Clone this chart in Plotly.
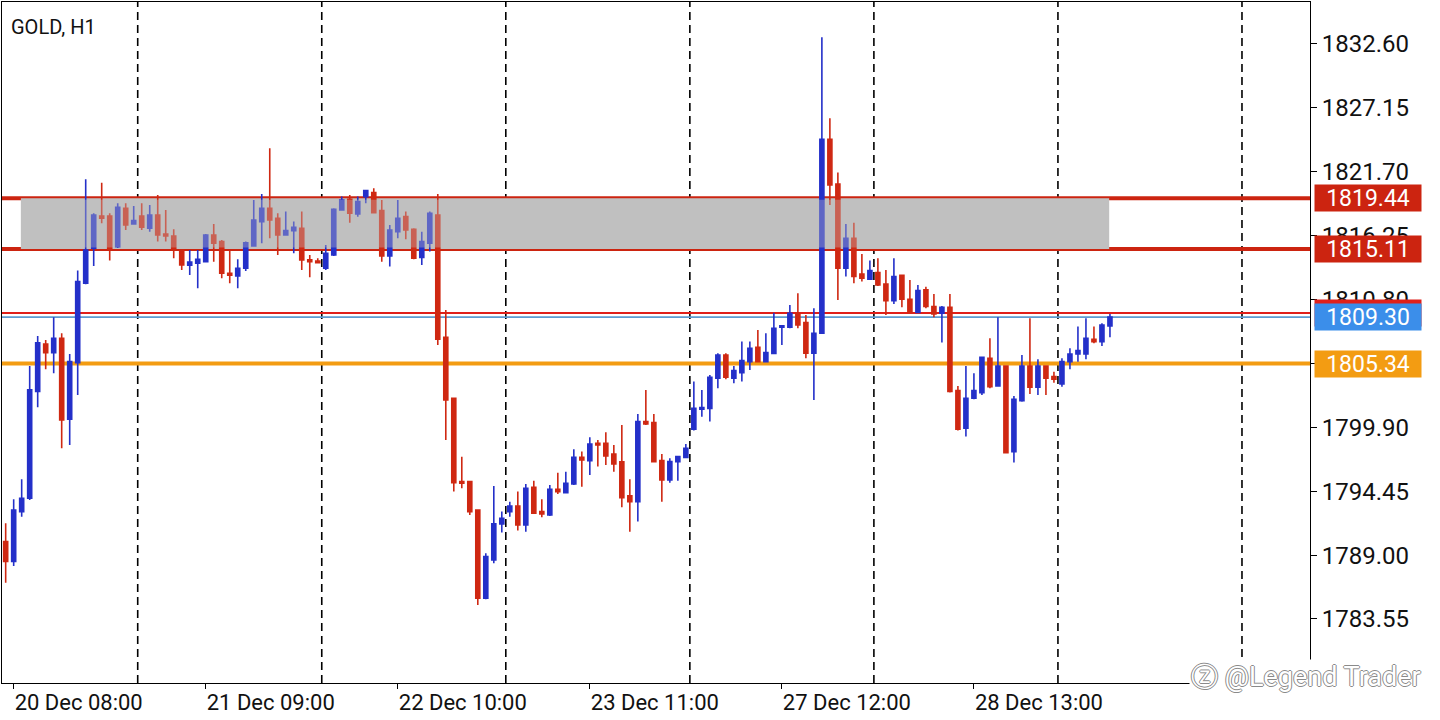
import plotly.graph_objects as go

# ---------------- data (GOLD, H1) ----------------
open_ = [1790.15, 1788.45, 1792.71, 1793.85, 1802.95, 1807.01, 1806.27, 1807.49, 1800.59, 1805.42,
         1812.19, 1815.17, 1817.93, 1817.93, 1815.31, 1818.58, 1817.25, 1817.93, 1816.88, 1818.01,
         1816.39, 1816.22, 1815.03, 1813.72, 1813.89, 1814.03, 1816.31, 1815.74, 1813.04, 1812.81,
         1813.47, 1815.37, 1817.45, 1818.58, 1817.73, 1816.31, 1816.68, 1816.88, 1814.18, 1814.09,
         1813.47, 1814.60, 1818.44, 1819.35, 1818.10, 1819.58, 1819.92, 1818.38, 1814.52, 1816.59,
         1817.87, 1816.79, 1814.40, 1815.60, 1818.01, 1807.58, 1802.38, 1795.27, 1795.27, 1792.85,
         1785.32, 1788.59, 1791.66, 1792.71, 1793.19, 1791.57, 1794.79, 1792.71, 1792.42, 1794.61,
         1794.33, 1795.07, 1797.34, 1797.06, 1798.54, 1798.54, 1797.63, 1796.95, 1794.05, 1793.56,
         1800.39, 1800.30, 1797.06, 1795.41, 1796.97, 1797.34, 1799.73, 1801.44, 1801.52, 1804.08,
         1806.07, 1804.08, 1804.56, 1805.50, 1806.73, 1805.50, 1806.21, 1808.43, 1808.43, 1809.63,
         1808.83, 1806.22, 1807.92, 1824.47, 1820.66, 1813.47, 1816.03, 1812.98, 1812.53, 1813.10,
         1812.13, 1810.71, 1812.87, 1810.82, 1809.69, 1811.62, 1810.20, 1809.63, 1810.14, 1803.03,
         1799.82, 1802.38, 1802.86, 1805.79, 1803.43, 1805.13, 1797.83, 1802.18, 1805.13, 1803.32,
         1805.13, 1804.22, 1803.60, 1805.50, 1806.16, 1806.16, 1807.41, 1807.21, 1808.55]
high = [1791.72, 1793.76, 1795.47, 1805.13, 1807.69, 1807.35, 1809.28, 1807.92, 1806.16, 1813.27,
        1821.05, 1818.16, 1820.77, 1818.16, 1819.01, 1819.01, 1818.78, 1819.01, 1818.87, 1819.72,
        1818.44, 1816.79, 1815.09, 1815.03, 1815.03, 1816.39, 1817.25, 1815.88, 1815.03, 1814.23,
        1815.74, 1819.29, 1819.80, 1823.70, 1818.16, 1818.30, 1817.45, 1818.30, 1814.60, 1814.32,
        1815.45, 1818.58, 1819.58, 1819.72, 1819.58, 1820.15, 1820.29, 1819.29, 1817.16, 1819.29,
        1818.30, 1816.88, 1816.59, 1818.30, 1819.80, 1809.91, 1802.43, 1797.40, 1795.35, 1792.91,
        1789.16, 1794.90, 1792.71, 1793.56, 1794.42, 1795.07, 1795.35, 1793.76, 1794.98, 1796.03,
        1796.12, 1798.03, 1797.83, 1799.05, 1798.82, 1799.48, 1798.40, 1800.10, 1795.47, 1801.04,
        1803.08, 1801.04, 1797.63, 1797.26, 1797.46, 1798.48, 1803.80, 1803.09, 1804.37, 1806.21,
        1806.21, 1805.13, 1807.21, 1807.21, 1808.20, 1807.92, 1809.68, 1808.63, 1810.34, 1811.33,
        1809.49, 1810.06, 1833.17, 1826.26, 1821.63, 1817.25, 1817.36, 1814.69, 1814.12, 1814.32,
        1813.32, 1814.32, 1812.93, 1812.47, 1812.04, 1811.90, 1811.28, 1810.25, 1811.28, 1803.43,
        1805.13, 1804.51, 1805.93, 1807.49, 1809.28, 1805.19, 1802.58, 1806.07, 1809.20, 1805.70,
        1805.19, 1804.65, 1805.79, 1806.64, 1808.49, 1809.20, 1808.49, 1808.77, 1809.57]
low = [1786.65, 1788.08, 1792.28, 1793.70, 1801.61, 1804.85, 1804.51, 1798.11, 1798.40, 1802.66,
       1812.10, 1813.66, 1817.30, 1814.12, 1815.20, 1816.74, 1817.20, 1816.74, 1816.59, 1815.74,
       1815.74, 1814.32, 1813.32, 1812.90, 1811.76, 1813.95, 1814.03, 1812.61, 1812.19, 1811.76,
       1813.24, 1815.31, 1815.60, 1816.02, 1814.60, 1816.25, 1814.74, 1813.32, 1812.70, 1813.89,
       1813.32, 1814.52, 1818.38, 1817.36, 1817.87, 1819.01, 1818.16, 1814.03, 1813.61, 1816.02,
       1815.94, 1814.23, 1813.75, 1814.89, 1806.93, 1798.82, 1794.42, 1794.70, 1792.43, 1784.75,
       1785.23, 1788.30, 1790.92, 1792.28, 1791.09, 1791.00, 1792.51, 1792.23, 1792.34, 1794.22,
       1794.27, 1794.98, 1794.84, 1795.84, 1796.55, 1796.69, 1796.12, 1793.08, 1791.00, 1791.86,
       1800.10, 1796.89, 1793.56, 1795.18, 1795.35, 1797.26, 1799.62, 1800.81, 1800.39, 1803.23,
       1804.00, 1803.66, 1803.80, 1804.79, 1805.42, 1805.45, 1806.16, 1806.93, 1808.35, 1808.35,
       1805.79, 1802.24, 1807.87, 1818.87, 1810.76, 1812.76, 1812.19, 1812.33, 1812.47, 1811.96,
       1809.49, 1810.42, 1810.14, 1809.63, 1809.63, 1810.06, 1809.29, 1807.13, 1802.86, 1799.62,
       1799.11, 1802.29, 1802.66, 1803.23, 1803.37, 1797.69, 1796.89, 1802.09, 1802.75, 1802.66,
       1802.66, 1803.71, 1803.37, 1804.85, 1805.50, 1805.70, 1807.07, 1806.84, 1807.58]
close = [1788.45, 1792.85, 1793.85, 1803.09, 1807.12, 1806.27, 1807.49, 1800.53, 1805.50, 1812.33,
         1815.03, 1818.01, 1817.73, 1815.09, 1818.67, 1817.16, 1817.53, 1816.96, 1818.01, 1816.31,
         1816.22, 1815.03, 1813.75, 1813.99, 1814.23, 1816.31, 1815.60, 1813.04, 1812.87, 1813.47,
         1815.65, 1817.59, 1818.58, 1817.59, 1816.31, 1816.68, 1816.96, 1814.18, 1814.03, 1813.95,
         1814.74, 1818.50, 1819.29, 1818.16, 1819.15, 1820.09, 1818.21, 1814.52, 1816.73, 1817.73,
         1816.73, 1814.32, 1815.74, 1818.16, 1807.41, 1802.24, 1795.18, 1795.13, 1792.71, 1785.32,
         1788.87, 1791.66, 1792.14, 1793.19, 1791.57, 1794.70, 1792.57, 1792.51, 1794.61, 1794.41,
         1795.12, 1797.34, 1797.12, 1798.48, 1798.40, 1797.46, 1796.77, 1793.90, 1793.56, 1800.39,
         1800.19, 1796.97, 1795.41, 1796.97, 1797.40, 1798.11, 1801.52, 1801.58, 1804.17, 1806.07,
         1804.17, 1804.74, 1805.59, 1806.64, 1805.50, 1806.27, 1808.35, 1808.57, 1809.63, 1808.63,
         1806.22, 1807.92, 1824.47, 1820.57, 1813.47, 1816.03, 1812.76, 1812.61, 1813.27, 1812.04,
         1810.71, 1812.76, 1810.82, 1809.69, 1811.56, 1810.20, 1809.57, 1810.14, 1802.95, 1799.73,
         1802.38, 1803.03, 1805.87, 1803.37, 1805.13, 1797.74, 1802.29, 1805.13, 1803.32, 1805.13,
         1804.08, 1804.00, 1805.50, 1806.16, 1806.44, 1807.49, 1807.21, 1808.63, 1809.30]
bars = list(range(len(close)))

x_tick_bars = [1, 25, 49, 73, 97, 121]
x_tick_labels = ["20 Dec 08:00", "21 Dec 09:00", "22 Dec 10:00",
                 "23 Dec 11:00", "27 Dec 12:00", "28 Dec 13:00"]
last_bar_of_day = [16, 39, 62, 85, 108, 131, 154]
y_tick_vals = [1783.55, 1789.00, 1794.45, 1799.90, 1805.35,
               1810.80, 1816.25, 1821.70, 1827.15, 1832.60]

zone_top = 1819.44
zone_bottom = 1815.11
zone_first_bar = 2
zone_last_bar = 138
support_level = 1805.34
bid_price = 1809.30
ask_price = 1809.65

# ---------------- style ----------------
BLUE = "#2430c9"
RED = "#cf2812"
LINE_RED = "#cc2410"
ORANGE = "#f39c12"
BID_BLUE = "#5e9bd0"
BOX_BLUE = "#3b8eea"
ZONE_GRAY = "#c0c0c0"
FONT = "Roboto, Noto Sans, sans-serif"

fig = go.Figure()
fig.add_trace(go.Candlestick(
    x=bars, open=open_, high=high, low=low, close=close,
    increasing=dict(line=dict(color=BLUE, width=1.6), fillcolor=BLUE),
    decreasing=dict(line=dict(color=RED, width=1.6), fillcolor=RED),
    whiskerwidth=0, hoverinfo="skip", showlegend=False,
))

shapes = []
# supply zone
shapes.append(dict(type="rect", xref="x", yref="y",
                   x0=zone_first_bar - 0.1, x1=zone_last_bar - 0.1,
                   y0=zone_bottom, y1=zone_top,
                   fillcolor=ZONE_GRAY, line=dict(width=0), layer="below"))
# day separators
for b in last_bar_of_day:
    shapes.append(dict(type="line", xref="x", yref="paper", x0=b + 0.5, x1=b + 0.5,
                       y0=0, y1=1, line=dict(color="black", width=1.6, dash="8px,5px"),
                       layer="below"))
# horizontal levels
for lvl, col, w in [(zone_top, LINE_RED, 4), (zone_bottom, LINE_RED, 4),
                    (ask_price, "#e0201a", 2), (bid_price, BID_BLUE, 1.6),
                    (support_level, ORANGE, 4)]:
    shapes.append(dict(type="line", xref="paper", yref="y", x0=0, x1=1, y0=lvl, y1=lvl,
                       line=dict(color=col, width=w), layer="below"))
# muted overlay on candles inside the zone
shapes.append(dict(type="rect", xref="x", yref="y",
                   x0=zone_first_bar - 0.1, x1=zone_last_bar - 0.1,
                   y0=zone_bottom + 0.12, y1=zone_top - 0.12,
                   fillcolor="rgba(192,192,192,0.38)", line=dict(width=0), layer="above"))

annotations = [
    dict(text="GOLD, H1", xref="paper", yref="paper", x=0.005, y=0.963,
         xanchor="left", yanchor="middle", showarrow=False,
         font=dict(family=FONT, size=20, color="#111111")),
]


def price_box(price, color, label):
    return dict(text=label, xref="paper", yref="y", x=1.0031, y=price,
                xanchor="left", yanchor="middle", showarrow=False,
                bgcolor=color, width=104, height=24, borderpad=1, align="center",
                font=dict(family=FONT, size=23, color="white"))


annotations.append(price_box(zone_top, LINE_RED, f"{zone_top:.2f}"))
annotations.append(price_box(zone_bottom, LINE_RED, f"{zone_bottom:.2f}"))
annotations.append(price_box(ask_price, "#e0201a", f"{ask_price:.2f}"))
annotations.append(price_box(bid_price, BOX_BLUE, f"{bid_price:.2f}"))
annotations.append(price_box(support_level, ORANGE, f"{support_level:.2f}"))

annotations.append(dict(
    text="ⓩ @Legend Trader", xref="paper", yref="paper", x=0.9075, y=0.009,
    xanchor="left", yanchor="middle", showarrow=False, bgcolor="white",
    font=dict(family=FONT, size=27, color="white",
              shadow="1px 0 #8a8a8a, -1px 0 #8a8a8a, 0 1px #8a8a8a, 0 -1px #8a8a8a"),
))

fig.update_layout(
    width=1440, height=720,
    margin=dict(l=2, r=130, t=2, b=37),
    paper_bgcolor="white", plot_bgcolor="white",
    boxgap=0.28,
    shapes=shapes, annotations=annotations,
    xaxis=dict(range=[-0.46, 163.0], tickmode="array", tickvals=x_tick_bars,
               ticktext=x_tick_labels, ticks="outside", ticklen=5, tickcolor="black",
               ticklabelposition="outside right",
               showline=True, linecolor="black", linewidth=1, mirror=True,
               showgrid=False, zeroline=False, rangeslider=dict(visible=False),
               tickfont=dict(family=FONT, size=22, color="#111111")),
    yaxis=dict(range=[1778.09, 1836.18], side="right", tickmode="array",
               tickvals=y_tick_vals, ticktext=[f"{v:.2f}" for v in y_tick_vals],
               ticks="outside", ticklen=6, tickcolor="black",
               showline=True, linecolor="black", linewidth=1, mirror=True,
               showgrid=False, zeroline=False,
               tickfont=dict(family=FONT, size=24, color="#111111")),
)

fig.write_html("out.html", config={"displayModeBar": False},
               post_script="document.body.style.margin='0';")
